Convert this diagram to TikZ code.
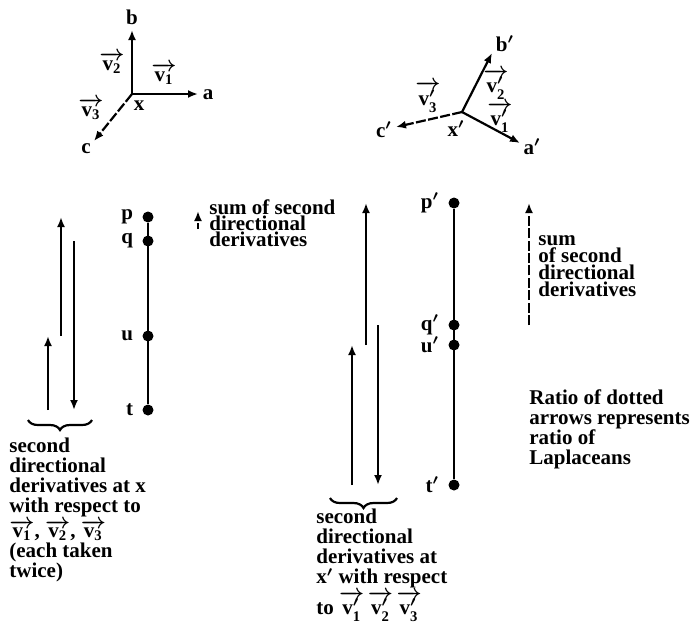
\documentclass[tikz,border=0pt]{standalone}
\usepackage{amsmath}
\usepackage{fontspec}
\setmainfont{Liberation Serif}
\usetikzlibrary{arrows.meta,decorations.pathreplacing}

\newcommand{\vv}[1]{$\overrightarrow{\text{v}_{\text{#1}}}$}
\newcommand{\vp}[1]{$\overrightarrow{\text{v}'_{\text{#1}}}$}

\begin{document}
\begin{tikzpicture}[x=0.5pt, y=-0.5pt, font=\bfseries\boldmath\fontsize{10.5}{10}\selectfont,
  ax/.style={line width=1.1pt, -{Latex[length=5pt,width=4pt]}},
  dashax/.style={ax, dash pattern=on 5pt off 1.2pt},
  dot/.style={circle, fill, inner sep=0pt, minimum size=5.5pt},
  txt/.style={anchor=north west, align=left, inner sep=0pt}]
  \useasboundingbox (0,0) rectangle (695,623);

  % frame at x
  \coordinate (X) at (132,94);
  \coordinate (a) at (198,94);
  \coordinate (b) at (132,30);
  \coordinate (c) at (94,141);
  \draw[ax] (X) -- (a);
  \draw[ax] (X) -- (b);
  \draw[dashax] (X) -- (c);
  \node at (208,95) {a};
  \node at (132,17) {b};
  \node at (86,149) {c};
  \node at (139,106) {x};
  \node at (164,74) {\vv1};
  \node at (112,63) {\vv2};
  \node at (91,109) {\vv3};

  % frame at x'
  \coordinate (Xp) at (462,112);
  \coordinate (ap) at (520,143);
  \coordinate (bp) at (492,53);
  \coordinate (cp) at (396,127);
  \draw[ax] (Xp) -- (ap);
  \draw[ax] (Xp) -- (bp);
  \draw[dashax] (Xp) -- (cp);
  \node at (532,147) {a$'$};
  \node at (505,44) {b$'$};
  \node at (384,130) {c$'$};
  \node at (456,129) {x$'$};
  \node at (500,117) {\vp1};
  \node at (496,84) {\vp2};
  \node at (428,97) {\vp3};

  % points at x
  \node[dot, label={[label distance=1pt]left:p}] (pL) at (148,217) {};
  \node[dot, label={[label distance=1pt]left:q}] (qL) at (148,241) {};
  \node[dot, label={[label distance=1pt]left:u}] (uL) at (148,336) {};
  \node[dot, label={[label distance=1pt]left:t}] (tL) at (148,410) {};
  \draw[line width=1.1pt] (pL) -- (tL);
  \coordinate (colA) at (48,0);
  \coordinate (colB) at (61,0);
  \coordinate (colC) at (74,0);
  \draw[ax] (tL -| colA) -- (uL -| colA);
  \draw[ax] (uL -| colB) -- (pL -| colB);
  \draw[ax] (qL -| colC) -- (tL -| colC);
  \coordinate (sL1) at (198,229);
  \coordinate (sL2) at (198,211);
  \draw[ax, dash pattern=on 3pt off 1pt] (sL1) -- (sL2);
  \node[txt, font=\bfseries\fontsize{10.5}{8}\selectfont] (sumL) at (209,199)
    {sum of second\\directional\\derivatives};
  \coordinate (brL1) at (28,420);
  \coordinate (brL2) at (92,420);
  \draw[decorate, decoration={brace, mirror, amplitude=5pt}, line width=1.1pt] (brL1) -- (brL2);
  \node[txt] (noteL) at (9,438)
    {second\\directional\\derivatives at x\\with respect to\\\vv1, \vv2, \vv3\\(each taken\\twice)};

  % points at x'
  \node[dot, label={[label distance=1pt]left:p$'$}] (pR) at (454,203) {};
  \node[dot, label={[label distance=1pt]left:q$'$}] (qR) at (454,325) {};
  \node[dot, label={[label distance=1pt]left:u$'$}] (uR) at (454,345) {};
  \node[dot, label={[label distance=1pt]left:t$'$}] (tR) at (454,485) {};
  \draw[line width=1.1pt] (pR) -- (tR);
  \coordinate (colD) at (352,0);
  \coordinate (colE) at (366,0);
  \coordinate (colF) at (378,0);
  \draw[ax] (tR -| colD) -- (uR -| colD);
  \draw[ax] (uR -| colE) -- (pR -| colE);
  \draw[ax] (qR -| colF) -- (tR -| colF);
  \coordinate (colG) at (529,0);
  \draw[dashax] (qR -| colG) -- (pR -| colG);
  \node[txt, font=\bfseries\fontsize{10.5}{8.6}\selectfont] (sumR) at (538,235)
    {sum\\of second\\directional\\derivatives};
  \coordinate (brR1) at (330,498);
  \coordinate (brR2) at (397,498);
  \draw[decorate, decoration={brace, mirror, amplitude=5pt}, line width=1.1pt] (brR1) -- (brR2);
  \node[txt] (noteR) at (316,509)
    {second\\directional\\derivatives at\\x$'$ with respect\\to \vp1\,\vp2\,\vp3};

  % ratio note
  \node[txt] (ratio) at (529,389)
    {Ratio of dotted\\arrows represents\\ratio of\\Laplaceans};
\end{tikzpicture}
\end{document}
